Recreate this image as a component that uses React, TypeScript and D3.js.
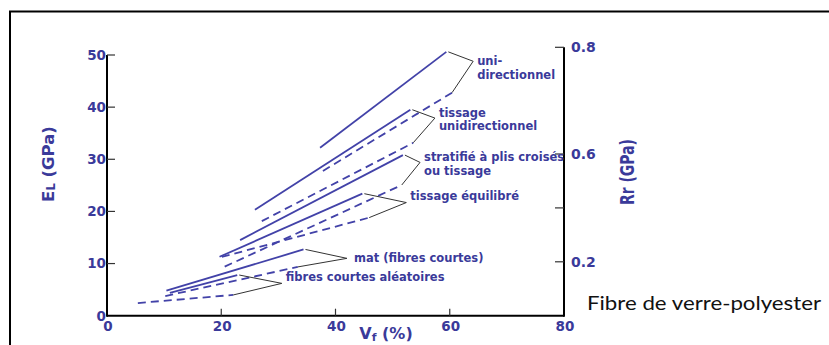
import React from 'react';
import * as d3 from 'd3';

// ---- data ----
const labelLines: string[][] = [
  ['uni-', 'directionnel'],
  ['tissage', 'unidirectionnel'],
  ['stratifié à plis croisés', 'ou tissage'],
  ['tissage équilibré'],
  ['mat (fibres courtes)'],
  ['fibres courtes aléatoires'],
];
// E_L (solid lines, left axis, GPa)
const elVfStart = [37.3, 25.9, 23.3, 19.7, 10.4, 11.0];
const elVfEnd = [59.4, 53.1, 51.8, 44.7, 34.4, 22.8];
const elStart = [32.2, 20.3, 14.5, 11.3, 4.8, 4.4];
const elEnd = [50.6, 39.5, 30.8, 23.4, 12.7, 7.8];
// Rr (dashed lines, right axis, GPa)
const rrVfStart = [37.8, 27.1, 20.6, 20.1, 10.2, 5.4];
const rrVfEnd = [60.4, 53.6, 51.6, 45.9, 33.4, 22.1];
const rrStart = [0.537, 0.351, 0.182, 0.218, 0.073, 0.047];
const rrEnd = [0.715, 0.621, 0.485, 0.364, 0.181, 0.077];
// bracket tips (Vf, E_L units)
const tipVf = [64.1, 57.4, 54.8, 52.4, 42.0, 30.6];
const tipEl = [48.8, 37.9, 29.4, 21.7, 11.0, 6.2];

const xTicks = [0, 20, 40, 60, 80];
const yTicks = [0, 10, 20, 30, 40, 50];
const rTicks = [0.2, 0.4, 0.6, 0.8];
const rTickLabels = ['0.2', '', '0.6', '0.8'];

// ---- layout ----
const W = 829;
const H = 345;
const BLUE = '#3a3a9a';
const LINE = '#4242a8';
const FONT = '"DejaVu Sans", sans-serif';
const labelDx = [4, 4, 4, 4, 7, 4];
const labelDy = [3.5, -1.5, -1, -2.5, 4, -2.5];
const lineH = 13.8;

export default function App() {
  const x = d3.scaleLinear().domain([0, 80]).range([107, 564]);
  const y = d3.scaleLinear().domain([0, 50]).range([315.7, 55]);
  const r = d3.scaleLinear().domain([0, 0.6, 0.8]).range([315.7, 154, 47.3]);
  const line = d3.line<[number, number]>();

  const y0 = y(0);

  return (
    <svg width={W} height={H} style={{ position: 'absolute', left: 0, top: 0, background: '#fff' }}>
      <rect x={0} y={0} width={W} height={H} fill="#fff" />
      {/* frame */}
      <rect x={10} y={11.5} width={830} height={345} fill="none" stroke="#000" strokeWidth={2} />

      {/* axes */}
      <line x1={x(0)} y1={y(50)} x2={x(0)} y2={y0 + 1} stroke="#000" strokeWidth={2} />
      <line x1={x(0)} y1={y0} x2={x(80)} y2={y0} stroke="#000" strokeWidth={2} />
      <line x1={x(80)} y1={r(0.8)} x2={x(80)} y2={y0 + 1} stroke="#000" strokeWidth={2} />

      {/* left ticks */}
      {yTicks.map((t) => (
        <g key={'y' + t}>
          {t > 0 && <line x1={x(0)} x2={x(0) + 8} y1={y(t)} y2={y(t)} stroke="#333" strokeWidth={1.2} />}
          <text x={x(0) - 1} y={y(t)} dy="0.36em" textAnchor="end" fill={BLUE}
            fontFamily={FONT} fontWeight="bold" fontSize={13.5}>{t}</text>
        </g>
      ))}
      {/* bottom ticks */}
      {xTicks.map((t) => (
        <g key={'x' + t}>
          {t > 0 && t < 80 && <line x1={x(t)} x2={x(t)} y1={y0} y2={y0 - 7} stroke="#333" strokeWidth={1.2} />}
          <text x={x(t) + 1} y={y0 + 15.5} textAnchor="middle" fill={BLUE}
            fontFamily={FONT} fontWeight="bold" fontSize={13.5}>{t}</text>
        </g>
      ))}
      {/* right ticks */}
      {rTicks.map((t, i) => (
        <g key={'r' + t}>
          <line x1={x(80) - 9} x2={x(80)} y1={r(t)} y2={r(t)} stroke="#333" strokeWidth={1.2} />
          {rTickLabels[i] && (
            <text x={x(80) + 7} y={r(t)} dy="0.36em" fill={BLUE}
              fontFamily={FONT} fontWeight="bold" fontSize={14}>{rTickLabels[i]}</text>
          )}
        </g>
      ))}

      {/* axis titles */}
      <text transform={`translate(54,164) rotate(-90)`} textAnchor="middle" fill={BLUE}
        fontFamily={FONT} fontWeight="bold" fontSize={16.5}>
        E<tspan fontSize={11.5} dy={1}>L</tspan><tspan dy={-1}> (GPa)</tspan>
      </text>
      <text transform={`translate(634,172) rotate(-90)`} textAnchor="middle" fill={BLUE}
        fontFamily={FONT} fontWeight="bold" fontSize={19} textLength={66} lengthAdjust="spacingAndGlyphs">
        Rr (GPa)
      </text>
      <text x={386} y={338.5} textAnchor="middle" fill={BLUE}
        fontFamily={FONT} fontWeight="bold" fontSize={16}>
        V<tspan fontSize={11} dy={2.5}>f</tspan><tspan dy={-2.5}> (%)</tspan>
      </text>
      <text x={587} y={310} fill="#111" fontFamily="Lato, sans-serif" fontSize={18.5}
        textLength={234} lengthAdjust="spacingAndGlyphs">
        Fibre de verre-polyester
      </text>

      {/* E_L solid lines */}
      {elStart.map((_, i) => (
        <path key={'el' + i}
          d={line([[x(elVfStart[i]), y(elStart[i])], [x(elVfEnd[i]), y(elEnd[i])]]) || ''}
          stroke={LINE} strokeWidth={1.8} fill="none" />
      ))}
      {/* Rr dashed lines */}
      {rrStart.map((_, i) => (
        <path key={'rr' + i}
          d={line([[x(rrVfStart[i]), r(rrStart[i])], [x(rrVfEnd[i]), r(rrEnd[i])]]) || ''}
          stroke={LINE} strokeWidth={1.8} strokeDasharray="8 5" fill="none" />
      ))}
      {/* brackets */}
      {tipVf.map((_, i) => (
        <path key={'br' + i}
          d={line([
            [x(elVfEnd[i]) + 2, y(elEnd[i])],
            [x(tipVf[i]), y(tipEl[i])],
            [x(rrVfEnd[i]), r(rrEnd[i])],
          ]) || ''}
          stroke="#333" strokeWidth={1} fill="none" />
      ))}
      {/* labels */}
      {labelLines.map((ls, i) => (
        <text key={'lb' + i} fill={BLUE} fontFamily={FONT} fontWeight="bold" fontSize={11.5}>
          {ls.map((s, j) => (
            <tspan key={j} x={x(tipVf[i]) + labelDx[i]} y={y(tipEl[i]) + labelDy[i] + j * lineH}>{s}</tspan>
          ))}
        </text>
      ))}
    </svg>
  );
}
